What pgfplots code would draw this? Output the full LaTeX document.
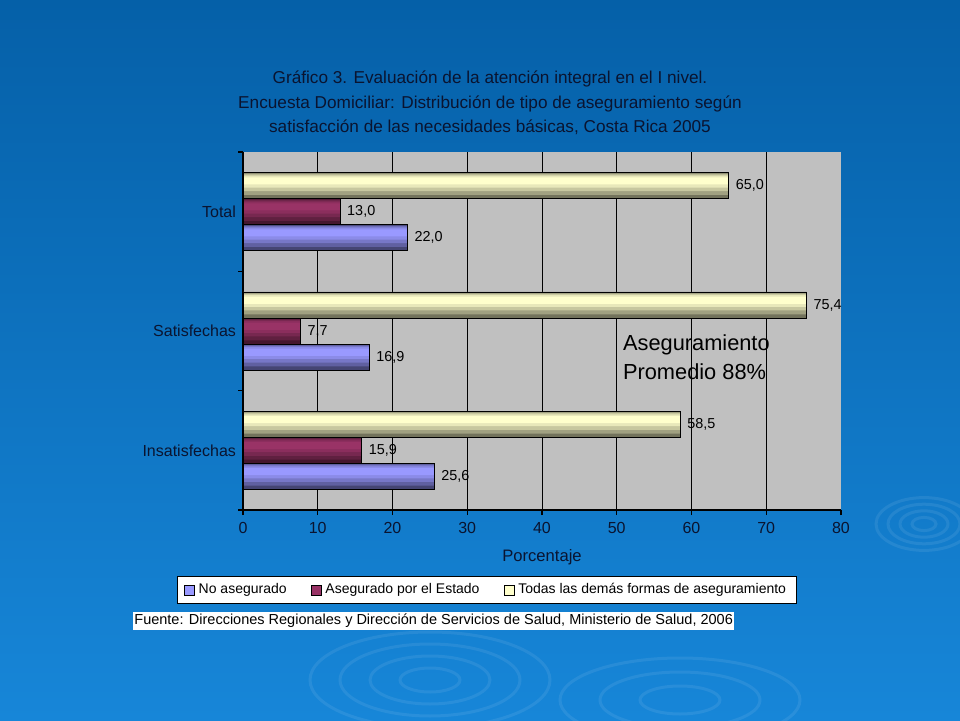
\documentclass[border=0pt]{standalone}
\usepackage{fontspec}
\setmainfont{Liberation Sans}
\usepackage{pgfplots}
\pgfplotsset{compat=1.18}

\definecolor{bgtop}{HTML}{0560A8}
\definecolor{bgbot}{HTML}{1786D8}
\definecolor{plotgray}{HTML}{C0C0C0}
\definecolor{txt}{HTML}{0A1430}
\definecolor{barblue}{HTML}{9999FF}
\definecolor{barred}{HTML}{993366}
\definecolor{baryel}{HTML}{FFFFCC}

% one series drawn as a few stacked layers to fake the cylinder shading
% #1 colour, #2-#6 bar shifts of the layers, #7 coordinates
\newcommand{\cylbar}[7]{%
  \addplot[forget plot, draw=none, fill=#1!45!black, bar width=0.218, bar shift=#2] coordinates {#7};
  \addplot[forget plot, draw=none, fill=#1!63!black, bar width=0.18, bar shift=#3] coordinates {#7};
  \addplot[forget plot, draw=none, fill=#1!78!black, bar width=0.14, bar shift=#4] coordinates {#7};
  \addplot[forget plot, draw=none, fill=#1!91!black, bar width=0.10, bar shift=#5] coordinates {#7};
  \addplot[forget plot, draw=none, fill=#1, bar width=0.06, bar shift=#6] coordinates {#7};
  \addplot[draw=black, fill=none, line width=0.4pt, bar width=0.218, bar shift=#2,
    nodes near coords,
    legend image code/.code={\draw[black, fill=#1, line width=0.4pt] (0pt,-2.5pt) rectangle (5pt,2.5pt);}]
    coordinates {#7};
}

\begin{document}
\begin{tikzpicture}
\useasboundingbox (0,0) rectangle (480pt,360pt);
\shade[top color=bgtop, bottom color=bgbot] (0,0) rectangle (480pt,360pt);

% faint ripples
\begin{scope}[white, opacity=0.08, line width=1.5pt]
  \foreach \r in {6,12,18,24} {
    \draw (462pt,98pt) ellipse ({\r pt} and {0.55*\r pt});
  }
  \foreach \r in {15,30,45,60} {
    \draw (215pt,20pt) ellipse ({\r pt} and {0.4*\r pt});
  }
  \foreach \r in {20,40,60} {
    \draw (340pt,10pt) ellipse ({\r pt} and {0.35*\r pt});
  }
\end{scope}

% title
\node[align=center, text=txt, font=\fontsize{8.6}{12.3}\selectfont] at (245pt,308.5pt)
  {Gráfico 3. Evaluación de la atención integral en el I nivel.\\
   Encuesta Domiciliar: Distribución de tipo de aseguramiento según\\
   satisfacción de las necesidades básicas, Costa Rica 2005};

\begin{axis}[
  at={(121.5pt,105pt)}, anchor=south west,
  scale only axis,
  width=299pt, height=179pt,
  xbar,
  xmin=0, xmax=80,
  ymin=-0.5, ymax=2.5,
  xtick={0,10,...,70},
  extra x ticks={80},
  extra x tick style={grid=none},
  ytick={-0.5,0.5,1.5,2.5},
  yticklabels={},
  extra y ticks={0,1,2},
  extra y tick labels={Insatisfechas,Satisfechas,Total},
  extra y tick style={major tick length=0pt, grid=none},
  tick align=outside,
  major tick length=2.5pt,
  axis lines*=left,
  axis line style={black, line width=0.6pt},
  tick style={black, line width=0.6pt},
  xmajorgrids,
  major grid style={black, line width=0.5pt},
  axis background/.style={fill=plotgray},
  ticklabel style={text=txt, font=\fontsize{8}{9}\selectfont},
  /pgf/number format/assume math mode=true,
  xlabel={Porcentaje},
  xlabel style={text=txt, font=\fontsize{8.3}{9}\selectfont, yshift=4pt},
  nodes near coords style={text=black, font=\fontsize{7.2}{8}\selectfont,
    /pgf/number format/.cd, use comma, fixed, fixed zerofill, precision=1},
  legend columns=3,
  legend style={at={(0.408,-0.2235)}, anchor=center, fill=white, draw=black,
    line width=0.5pt, font=\fontsize{7}{8}\selectfont,
    /tikz/every even column/.append style={column sep=10pt},
    inner xsep=3pt, inner ysep=1.5pt},
]
\cylbar{barblue}{-0.218}{-0.206}{-0.194}{-0.184}{-0.178}{(25.6,0) (16.9,1) (22.0,2)}
\cylbar{barred}{0}{0.012}{0.024}{0.034}{0.04}{(15.9,0) (7.7,1) (13.0,2)}
\cylbar{baryel}{0.218}{0.230}{0.242}{0.252}{0.258}{(58.5,0) (75.4,1) (65.0,2)}
\legend{No asegurado, Asegurado por el Estado, Todas las demás formas de aseguramiento}

\node[anchor=west, align=left, text=black, font=\fontsize{10.9}{14.5}\selectfont]
  at (axis cs:49.9,0.78) {Aseguramiento\\Promedio 88\%};
\end{axis}

\node[anchor=west, fill=white, inner xsep=0.5pt, inner ysep=1pt, text=black,
  font=\fontsize{7.25}{8}\selectfont] at (66.5pt,49.5pt)
  {Fuente: Direcciones Regionales y Dirección de Servicios de Salud, Ministerio de Salud, 2006};
\end{tikzpicture}
\end{document}
